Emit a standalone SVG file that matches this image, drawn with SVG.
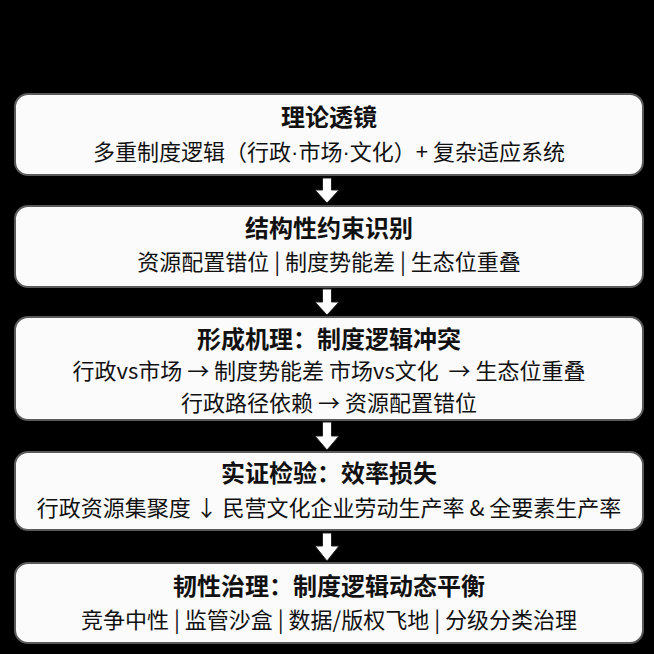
<svg xmlns="http://www.w3.org/2000/svg" width="654" height="654" viewBox="0 0 654 654">
<style>
.box{fill:#fbfbfb;stroke:#5a5a5a;stroke-width:2}
.t{font-family:"Noto Sans CJK SC","Noto Sans",sans-serif;font-weight:700;font-size:24px;fill:#111;text-anchor:middle}
.s{font-family:"Noto Sans CJK SC","Noto Sans",sans-serif;font-weight:400;font-size:22px;fill:#111;text-anchor:middle}
.d{font-family:"Liberation Sans",sans-serif}
.arr{fill:#fff;stroke:#222;stroke-width:1}
</style>
<rect x="0" y="0" width="654" height="654" fill="#000"/>
<g id="connectors">
<path class="arr" d="M322.5,178 H331.5 V190 H339 L327,203 L315,190 H322.5 Z"/>
<path class="arr" d="M322.5,289 H331.5 V302 H339 L327,315 L315,302 H322.5 Z"/>
<path class="arr" d="M322.5,422 H331.5 V436 H339 L327,450 L315,436 H322.5 Z"/>
<path class="arr" d="M322.5,533 H331.5 V546 H339 L327,561 L315,546 H322.5 Z"/>
</g>
<g id="node1">
<rect class="box" x="15" y="94" width="628" height="81" rx="13"/>
<text class="t" x="329" y="126">理论透镜</text>
<text class="s" x="329" y="160">多重制度逻辑（行政<tspan class="d">·</tspan>市场<tspan class="d">·</tspan>文化）+ 复杂适应系统</text>
</g>
<g id="node2">
<rect class="box" x="15" y="206" width="628" height="81" rx="13"/>
<text class="t" x="329" y="237">结构性约束识别</text>
<text class="s" x="329" y="270">资源配置错位 | 制度势能差 | 生态位重叠</text>
</g>
<g id="node3">
<rect class="box" x="15" y="317" width="628" height="103" rx="13"/>
<text class="t" x="329" y="348">形成机理：制度逻辑冲突</text>
<text class="s" x="329" y="379" xml:space="preserve">行政vs市场 → 制度势能差 市场vs文化  → 生态位重叠</text>
<text class="s" x="329" y="411">行政路径依赖 → 资源配置错位</text>
</g>
<g id="node4">
<rect class="box" x="15" y="452" width="628" height="78" rx="13"/>
<text class="t" x="329" y="482">实证检验：效率损失</text>
<text class="s" x="329" y="516">行政资源集聚度 ↓ 民营文化企业劳动生产率 &amp; 全要素生产率</text>
</g>
<g id="node5">
<rect class="box" x="15" y="563" width="628" height="80" rx="13"/>
<text class="t" x="329" y="595">韧性治理：制度逻辑动态平衡</text>
<text class="s" x="329" y="628">竞争中性 | 监管沙盒 | 数据/版权飞地 | 分级分类治理</text>
</g>
</svg>
